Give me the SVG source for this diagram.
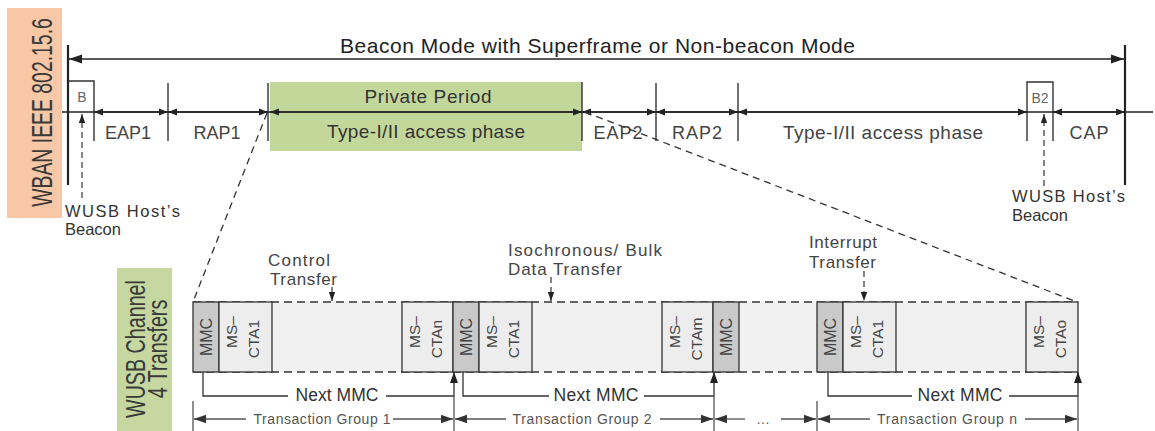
<svg xmlns="http://www.w3.org/2000/svg" width="1155" height="431" viewBox="0 0 1155 431">
  <style>
    text { font-family: "Liberation Sans", Arial, sans-serif; fill: #333; }
    .lbl { font-size: 18px; text-anchor: middle; fill: #444; }
    .title { font-size: 21px; text-anchor: middle; fill: #222; }
    .side { text-anchor: middle; fill: #3a3a3a; }
    .note { font-size: 16.5px; fill: #333; }
    .xfer { font-size: 17px; fill: #444; }
    .box { font-size: 16px; text-anchor: middle; fill: #444; }
    .nm { font-size: 17.5px; text-anchor: middle; fill: #333; }
    .tg { font-size: 14px; text-anchor: middle; fill: #555; }
    .small { font-size: 14px; text-anchor: middle; fill: #666; }
    .ln { stroke: #222; stroke-width: 1.5; fill: none; }
    .tick { stroke: #333; stroke-width: 1.4; }
    .heavy { stroke: #222; stroke-width: 2.2; }
    .dash { stroke: #333; stroke-width: 1.3; stroke-dasharray: 7 5; fill: none; }
    .dashv { stroke: #333; stroke-width: 1.2; stroke-dasharray: 6 4; fill: none; }
    .frame { stroke: #333; stroke-width: 1.3; stroke-dasharray: 8 5; fill: none; }
    .mmc { fill: #c9c9c9; stroke: #333; stroke-width: 1.3; }
    .cta { fill: #ededed; stroke: #333; stroke-width: 1.3; }
    .conn { stroke: #333; stroke-width: 1.3; fill: none; }
    .tgl { stroke: #555; stroke-width: 1.3; fill: none; }
  </style>
  <defs>
    <marker id="ah" markerUnits="userSpaceOnUse" markerWidth="10" markerHeight="8" refX="9" refY="4" orient="auto-start-reverse">
      <path d="M0,0.5 L9,4 L0,7.5 z" fill="#222"/>
    </marker>
    <marker id="ahBig" markerUnits="userSpaceOnUse" markerWidth="14" markerHeight="10" refX="13" refY="5" orient="auto-start-reverse">
      <path d="M0,0.5 L13,5 L0,9.5 z" fill="#222"/>
    </marker>
    <marker id="ahDash" markerUnits="userSpaceOnUse" markerWidth="10" markerHeight="8" refX="9" refY="4" orient="auto">
      <path d="M0,0.8 L9,4 L0,7.2 z" fill="#222"/>
    </marker>
    <marker id="ahUp" markerUnits="userSpaceOnUse" markerWidth="12" markerHeight="9" refX="11" refY="4.5" orient="auto">
      <path d="M0,0.5 L11,4.5 L0,8.5 z" fill="#222"/>
    </marker>
    <marker id="ahTg" markerUnits="userSpaceOnUse" markerWidth="13" markerHeight="10" refX="12" refY="5" orient="auto-start-reverse">
      <path d="M0,0.8 L12,5 L0,9.2 z" fill="#333"/>
    </marker>
  </defs>

  <!-- side captions (tall, narrow lettering) -->
  <g id="wban-caption">
    <rect x="7" y="8" width="55" height="210" fill="#f8c7a5"/>
    <text class="side" style="font-size:19.4px" transform="translate(52,112.5) rotate(-90) scale(1,1.55)">WBAN IEEE 802.15.6</text>
  </g>
  <g id="wusb-caption">
    <rect x="117" y="268" width="55" height="163" fill="#c6d8a0"/>
    <text class="side" style="font-size:19.7px" transform="translate(145,349) rotate(-90) scale(1,1.45)">WUSB Channel</text>
    <text class="side" style="font-size:19.7px" transform="translate(167,349) rotate(-90) scale(1,1.4)">4 Transfers</text>
  </g>

  <!-- superframe span -->
  <g id="superframe">
    <line class="heavy" x1="68" y1="45" x2="68" y2="185"/>
    <line class="heavy" x1="1125" y1="45" x2="1125" y2="185"/>
    <line class="ln" x1="69" y1="59" x2="1124" y2="59" marker-start="url(#ahBig)" marker-end="url(#ahBig)"/>
    <text class="title" x="597.5" y="53" textLength="515">Beacon Mode with Superframe or Non-beacon Mode</text>
  </g>

  <!-- private period -->
  <g id="private-period">
    <rect x="270" y="82" width="312" height="69" fill="#c4d79b"/>
    <text class="lbl" x="428" y="103" style="font-size:19px;fill:#333" textLength="127">Private Period</text>
    <text class="lbl" x="426" y="138" style="font-size:19px;fill:#333" textLength="198">Type-I/II access phase</text>
  </g>

  <!-- beacon slots -->
  <g id="beacon-b">
    <path class="tick" d="M68,81 H94 V141" fill="none"/>
    <text class="small" x="82" y="102">B</text>
  </g>
  <g id="beacon-b2">
    <path class="tick" d="M1027,141 V82 H1053 V141" fill="none"/>
    <text class="small" x="1040" y="103">B2</text>
  </g>

  <!-- period boundaries -->
  <g id="ticks">
    <line class="tick" x1="168" y1="83" x2="168" y2="141"/>
    <line class="tick" x1="268" y1="83" x2="268" y2="141"/>
    <line class="tick" x1="582" y1="82" x2="582" y2="141"/>
    <line class="tick" x1="656" y1="83" x2="656" y2="141"/>
    <line class="tick" x1="738" y1="83" x2="738" y2="141"/>
  </g>

  <!-- period labels -->
  <g id="labels">
    <text class="lbl" x="128" y="139" textLength="46">EAP1</text>
    <text class="lbl" x="217" y="139" textLength="47">RAP1</text>
    <text class="lbl" x="618" y="139" textLength="49">EAP2</text>
    <text class="lbl" x="697" y="139" textLength="50">RAP2</text>
    <text class="lbl" x="883" y="139" style="font-size:19px" textLength="200">Type-I/II access phase</text>
    <text class="lbl" x="1089" y="139" textLength="39">CAP</text>
  </g>

  <!-- host beacon notes -->
  <g id="note-left">
    <text class="note" x="65" y="217" textLength="115">WUSB Host’s</text>
    <text class="note" x="65" y="235">Beacon</text>
  </g>
  <g id="note-right">
    <text class="note" x="1012" y="202" textLength="113">WUSB Host’s</text>
    <text class="note" x="1012" y="221">Beacon</text>
  </g>

  <!-- transfer notes -->
  <g id="note-control">
    <text class="xfer" x="268" y="266" textLength="62">Control</text>
    <text class="xfer" x="270" y="285" textLength="67">Transfer</text>
  </g>
  <g id="note-iso">
    <text class="xfer" x="508" y="256" textLength="154">Isochronous/ Bulk</text>
    <text class="xfer" x="508" y="275" textLength="114">Data Transfer</text>
  </g>
  <g id="note-interrupt">
    <text class="xfer" x="809" y="248" textLength="68">Interrupt</text>
    <text class="xfer" x="809" y="268" textLength="67">Transfer</text>
  </g>

  <!-- channel strip -->
  <g id="strip">
    <rect x="193" y="302" width="885" height="70" fill="#f1f1f1"/>
    <line class="frame" x1="193" y1="302" x2="1078" y2="302"/>
    <line class="frame" x1="193" y1="372" x2="1078" y2="372"/>
  </g>

  <g id="mmc-1">
    <rect class="mmc" x="193" y="302" width="26" height="70"/>
    <text class="box" transform="translate(212,337) rotate(-90)">MMC</text>
  </g>
  <g id="cta-1-1">
    <rect class="cta" x="219" y="302" width="53" height="70"/>
    <text class="box" style="font-size:15.5px" transform="translate(237,332) rotate(-90)">MS–</text>
    <text class="box" style="font-size:15.5px" transform="translate(259,339) rotate(-90)">CTA1</text>
  </g>
  <g id="cta-1-n">
    <rect class="cta" x="402" y="302" width="51" height="70"/>
    <text class="box" style="font-size:15.5px" transform="translate(420,332) rotate(-90)">MS–</text>
    <text class="box" style="font-size:15.5px" transform="translate(442,339) rotate(-90)">CTAn</text>
  </g>
  <g id="mmc-2">
    <rect class="mmc" x="453" y="302" width="26" height="70"/>
    <text class="box" transform="translate(472,337) rotate(-90)">MMC</text>
  </g>
  <g id="cta-2-1">
    <rect class="cta" x="479" y="302" width="53" height="70"/>
    <text class="box" style="font-size:15.5px" transform="translate(497,332) rotate(-90)">MS–</text>
    <text class="box" style="font-size:15.5px" transform="translate(519,339) rotate(-90)">CTA1</text>
  </g>
  <g id="cta-2-m">
    <rect class="cta" x="662" y="302" width="51" height="70"/>
    <text class="box" style="font-size:15.5px" transform="translate(680,332) rotate(-90)">MS–</text>
    <text class="box" style="font-size:15.5px" transform="translate(702,339) rotate(-90)">CTAm</text>
  </g>
  <g id="mmc-3">
    <rect class="mmc" x="713" y="302" width="26" height="70"/>
    <text class="box" transform="translate(732,337) rotate(-90)">MMC</text>
  </g>
  <g id="mmc-4">
    <rect class="mmc" x="817" y="302" width="26" height="70"/>
    <text class="box" transform="translate(836,337) rotate(-90)">MMC</text>
  </g>
  <g id="cta-n-1">
    <rect class="cta" x="843" y="302" width="53" height="70"/>
    <text class="box" style="font-size:15.5px" transform="translate(861,332) rotate(-90)">MS–</text>
    <text class="box" style="font-size:15.5px" transform="translate(883,339) rotate(-90)">CTA1</text>
  </g>
  <g id="cta-n-o">
    <rect class="cta" x="1026" y="302" width="52" height="70"/>
    <text class="box" style="font-size:15.5px" transform="translate(1044,332) rotate(-90)">MS–</text>
    <text class="box" style="font-size:15.5px" transform="translate(1066,339) rotate(-90)">CTAo</text>
  </g>

  <!-- connectors -->
  <g id="connectors">
    <!-- main timeline -->
    <line class="ln" x1="62" y1="112" x2="1153" y2="112"/>
    <line class="ln" x1="94" y1="112" x2="168" y2="112" marker-start="url(#ah)" marker-end="url(#ah)"/>
    <line class="ln" x1="168" y1="112" x2="268" y2="112" marker-start="url(#ah)" marker-end="url(#ah)"/>
    <line class="ln" x1="270" y1="112" x2="582" y2="112" marker-start="url(#ah)" marker-end="url(#ah)"/>
    <line class="ln" x1="582" y1="112" x2="656" y2="112" marker-start="url(#ah)" marker-end="url(#ah)"/>
    <line class="ln" x1="656" y1="112" x2="738" y2="112" marker-start="url(#ah)" marker-end="url(#ah)"/>
    <line class="ln" x1="738" y1="112" x2="1027" y2="112" marker-start="url(#ah)" marker-end="url(#ah)"/>
    <line class="ln" x1="1053" y1="112" x2="1125" y2="112" marker-start="url(#ah)" marker-end="url(#ah)"/>

    <!-- beacon pointers -->
    <line class="dashv" x1="82" y1="198" x2="82" y2="114" marker-end="url(#ahDash)"/>
    <line class="dashv" x1="1044" y1="186" x2="1044" y2="114" marker-end="url(#ahDash)"/>

    <!-- zoom projection -->
    <line class="dash" x1="267" y1="113" x2="193" y2="302"/>
    <line class="dash" x1="585" y1="112" x2="1077" y2="302"/>

    <!-- transfer pointers -->
    <line class="dashv" x1="332" y1="287" x2="332" y2="301" marker-end="url(#ahDash)"/>
    <line class="dashv" x1="551" y1="277" x2="551" y2="301" marker-end="url(#ahDash)"/>
    <line class="dashv" x1="864" y1="271" x2="864" y2="301" marker-end="url(#ahDash)"/>

    <!-- next MMC links -->
    <path class="conn" d="M203,372 V396 H288"/>
    <path class="conn" d="M386,396 H454 V372" marker-end="url(#ahUp)"/>
    <path class="conn" d="M463,372 V396 H549"/>
    <path class="conn" d="M644,396 H714 V372" marker-end="url(#ahUp)"/>
    <path class="conn" d="M828,372 V396 H912"/>
    <path class="conn" d="M1009,396 H1078 V372" marker-end="url(#ahUp)"/>

    <!-- transaction group spans -->
    <line class="tgl" x1="193" y1="401" x2="193" y2="431"/>
    <line class="tgl" x1="454" y1="396" x2="454" y2="431"/>
    <line class="tgl" x1="714" y1="396" x2="714" y2="431"/>
    <line class="tgl" x1="817" y1="401" x2="817" y2="431"/>
    <line class="tgl" x1="1078" y1="396" x2="1078" y2="431"/>

    <line class="tgl" x1="194" y1="419" x2="246" y2="419" marker-start="url(#ahTg)"/>
    <line class="tgl" x1="393" y1="419" x2="453" y2="419" marker-end="url(#ahTg)"/>
    <line class="tgl" x1="455" y1="419" x2="506" y2="419" marker-start="url(#ahTg)"/>
    <line class="tgl" x1="660" y1="419" x2="713" y2="419" marker-end="url(#ahTg)"/>
    <line class="tgl" x1="715" y1="419" x2="745" y2="419" marker-start="url(#ahTg)"/>
    <line class="tgl" x1="781" y1="419" x2="816" y2="419" marker-end="url(#ahTg)"/>
    <line class="tgl" x1="818" y1="419" x2="870" y2="419" marker-start="url(#ahTg)"/>
    <line class="tgl" x1="1025" y1="419" x2="1077" y2="419" marker-end="url(#ahTg)"/>
  </g>

  <!-- span labels -->
  <g id="span-labels">
    <text class="nm" x="337" y="401" textLength="83">Next MMC</text>
    <text class="nm" x="596" y="401" textLength="85">Next MMC</text>
    <text class="nm" x="960" y="401" textLength="85">Next MMC</text>
    <text class="tg" x="322" y="424" textLength="137">Transaction Group 1</text>
    <text class="tg" x="582" y="424" textLength="139">Transaction Group 2</text>
    <text class="tg" x="763" y="424">…</text>
    <text class="tg" x="947" y="424" textLength="140">Transaction Group n</text>
  </g>
</svg>
